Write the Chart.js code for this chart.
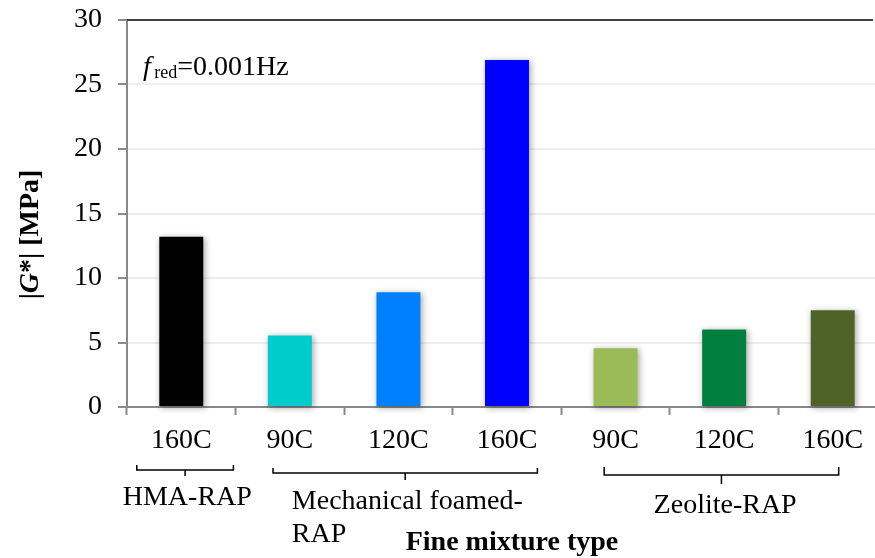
<!DOCTYPE html>
<html>
<head>
<meta charset="utf-8">
<script src="https://cdn.jsdelivr.net/npm/chart.js@4/dist/chart.umd.min.js"></script>
<style>
  html, body { margin: 0; padding: 0; background: #ffffff; overflow: hidden; width: 875px; height: 558px; }
  #wrap { position: relative; width: 875px; height: 558px; overflow: hidden; }
  canvas { position: absolute; left: 0; top: 0; }
</style>
</head>
<body>
<div id="wrap"><canvas id="chart" width="887" height="558"></canvas></div>
<script>
// Production temperature of each fine mixture
const categories = ['160C', '90C', '120C', '160C', '90C', '120C', '160C'];
// |G*| at the reduced frequency, MPa
const modulus = [13.2, 5.55, 8.9, 26.9, 4.55, 6.0, 7.5];
// Mixture families and the category indices they cover
const groupNames = ['HMA-RAP', 'Mechanical foamed-RAP', 'Zeolite-RAP'];
const groupFirst = [0, 1, 4];
const groupLast = [0, 3, 6];
// Value axis ticks
const yMin = 0, yMax = 30, yStep = 5;

const barColors = ['#000000', '#00CCCC', '#0080FF', '#0000FF', '#9BBB59', '#00803F', '#4F6228'];

const SERIF = "'Liberation Serif', 'Times New Roman', serif";
const FS = 28;

// Soft shadow painted under each bar
const barShadow = {
  id: 'barShadow',
  beforeDatasetsDraw(chart) {
    const c = chart.ctx;
    const bars = chart.getDatasetMeta(0).data;
    c.save();
    c.filter = 'blur(3px)';
    c.fillStyle = 'rgba(0,0,0,0.33)';
    bars.forEach(b => {
      const p = b.getProps(['x', 'y', 'base', 'width'], true);
      c.fillRect(p.x - p.width / 2 + 1, p.y + 1, p.width + 1, p.base - p.y + 1);
    });
    c.restore();
  }
};

function drawRuns(c, runs, x, y, align) {
  let total = 0;
  runs.forEach(r => { c.font = r.font; total += c.measureText(r.text).width; });
  let cx = align === 'center' ? x - total / 2 : x;
  runs.forEach(r => {
    c.font = r.font;
    c.fillText(r.text, cx, y + (r.dy || 0));
    cx += c.measureText(r.text).width;
  });
}

// Axis titles, group brackets, top frame line and frequency note
const annotations = {
  id: 'annotations',
  afterDraw(chart) {
    const c = chart.ctx;
    const xs = chart.scales.x;
    const area = chart.chartArea;
    const cat = (area.right - area.left) / categories.length;
    c.save();

    // dark frame line along the top of the plot, up to the visible edge
    c.strokeStyle = '#404040';
    c.lineWidth = 2;
    c.beginPath();
    c.moveTo(area.left, area.top);
    c.lineTo(Math.min(area.right, 873), area.top);
    c.stroke();

    c.fillStyle = '#000000';
    c.strokeStyle = '#000000';
    c.textBaseline = 'alphabetic';
    c.textAlign = 'left';

    // y-axis title
    c.save();
    c.translate(38, 234.5);
    c.rotate(-Math.PI / 2);
    drawRuns(c, [
      { text: '|', font: `bold ${FS}px ${SERIF}` },
      { text: 'G', font: `italic bold ${FS}px ${SERIF}` },
      { text: '*| [MPa]', font: `bold ${FS}px ${SERIF}` }
    ], 0, 0, 'center');
    c.restore();

    // x-axis title
    c.font = `bold ${FS}px ${SERIF}`;
    c.textAlign = 'center';
    c.fillText('Fine mixture type', 512, 550);
    c.textAlign = 'left';

    // frequency note
    drawRuns(c, [
      { text: 'f', font: `italic ${FS}px ${SERIF}` },
      { text: ' ', font: `${FS * 0.5}px ${SERIF}` },
      { text: 'red', font: `${Math.round(FS * 0.66)}px ${SERIF}`, dy: 3 },
      { text: '=0.001Hz', font: `${FS}px ${SERIF}` }
    ], area.left + 16, 75, 'left');

    // brackets under each group
    const bracket = [
      { from: -0.41, to: 0.48, y: 470, up: 5, down: 6 },
      { from: -0.155, to: 0.28, y: 473, up: 5, down: 7 },
      { from: -0.105, to: 0.055, y: 475, up: 8, down: 9 }
    ];
    c.lineWidth = 1.5;
    groupNames.forEach((g, i) => {
      const b = bracket[i];
      const x1 = xs.getPixelForValue(groupFirst[i]) + b.from * cat;
      const x2 = xs.getPixelForValue(groupLast[i]) + b.to * cat;
      const xm = (x1 + x2) / 2;
      c.beginPath();
      c.moveTo(x1, b.y - b.up);
      c.lineTo(x1, b.y);
      c.lineTo(x2, b.y);
      c.lineTo(x2, b.y - b.up);
      c.moveTo(xm, b.y);
      c.lineTo(xm, b.y + b.down);
      c.stroke();
    });

    // group names
    c.font = `${FS}px ${SERIF}`;
    c.textAlign = 'center';
    c.fillText(groupNames[0], xs.getPixelForValue(0) + 6, 505);
    c.fillText(groupNames[2], xs.getPixelForValue(5) + 1, 513);
    c.textAlign = 'left';
    const mech = groupNames[1].split('-');
    const mx = xs.getPixelForValue(1) + 2;
    c.fillText(mech[0] + '-', mx, 509);
    c.fillText(mech[1], mx, 542);
    c.restore();
  }
};

new Chart(document.getElementById('chart'), {
  type: 'bar',
  data: {
    labels: categories,
    datasets: [{
      data: modulus,
      backgroundColor: barColors,
      borderWidth: 0,
      barPercentage: 0.405,
      categoryPercentage: 1.0
    }]
  },
  options: {
    responsive: false,
    animation: false,
    devicePixelRatio: 1,
    layout: { padding: { top: 20, right: 0, bottom: 0, left: 0 } },
    plugins: {
      legend: { display: false },
      tooltip: { enabled: false }
    },
    scales: {
      x: {
        z: 1,
        offset: true,
        afterFit(scale) {
          scale.height = 151;
          scale.paddingLeft = 0;
          scale.paddingRight = 0;
        },
        grid: {
          offset: true,
          drawOnChartArea: false,
          drawTicks: true,
          tickLength: 8,
          tickWidth: 2,
          tickColor: '#898989'
        },
        border: { display: true, color: '#898989', width: 2 },
        ticks: {
          color: '#000000',
          font: { family: SERIF, size: FS },
          padding: 9,
          maxRotation: 0,
          autoSkip: false
        }
      },
      y: {
        min: yMin,
        max: yMax,
        afterFit(scale) {
          scale.width = 127;
          scale.paddingTop = 0;
          scale.paddingBottom = 0;
        },
        grid: {
          color: '#eeeeee',
          lineWidth: 2,
          drawTicks: true,
          tickLength: 9,
          tickWidth: 2,
          tickColor: '#898989'
        },
        border: { display: true, color: '#898989', width: 2 },
        ticks: {
          stepSize: yStep,
          color: '#000000',
          font: { family: SERIF, size: FS },
          padding: 16
        }
      }
    }
  },
  plugins: [barShadow, annotations]
});
</script>
</body>
</html>
